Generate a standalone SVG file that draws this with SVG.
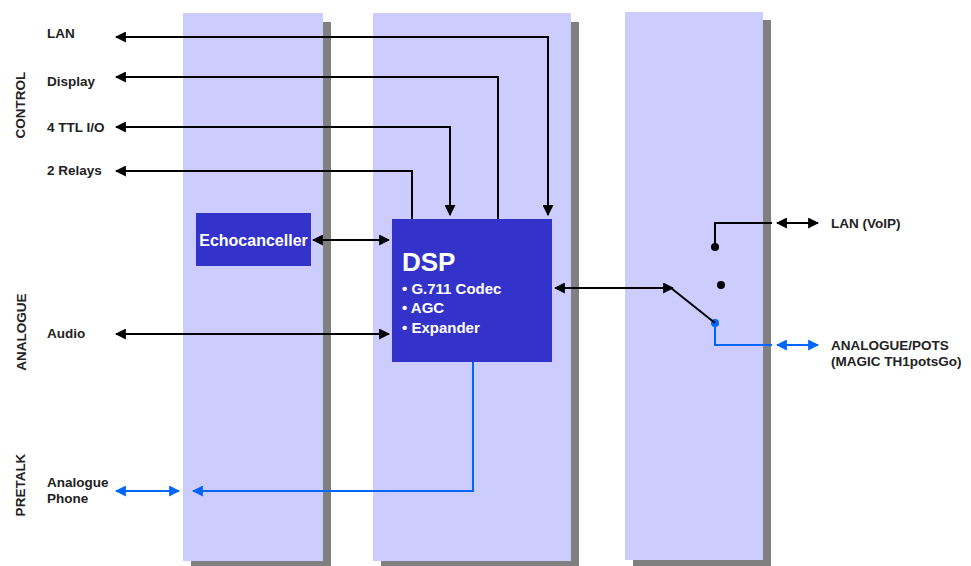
<svg xmlns="http://www.w3.org/2000/svg" width="971" height="566" viewBox="0 0 971 566">
<style>
.panel{fill:#CCCCFF}
.shadow{fill:#808080}
.box{fill:#3333CC}
.lbl{font-family:"Liberation Sans",Arial,sans-serif;font-weight:bold;font-size:13.5px;fill:#222}
.wt{font-family:"Liberation Sans",Arial,sans-serif;font-weight:bold;fill:#fff}
.k{fill:none;stroke:#000;stroke-width:2}
.b{fill:none;stroke:#0066FF;stroke-width:2}
</style>
<defs>
<marker id="ak" viewBox="0 0 10 10" refX="9" refY="5" markerWidth="5.5" markerHeight="5.5" orient="auto-start-reverse" markerUnits="strokeWidth"><path d="M0,0 L10,5 L0,10 z" fill="#000"/></marker>
<marker id="ab" viewBox="0 0 10 10" refX="9" refY="5" markerWidth="5.5" markerHeight="5.5" orient="auto-start-reverse" markerUnits="strokeWidth"><path d="M0,0 L10,5 L0,10 z" fill="#0066FF"/></marker>
</defs>
<rect width="971" height="566" fill="#fff"/>
<g id="panel1"><rect class="shadow" x="191" y="22" width="140" height="544"/><rect class="panel" x="183" y="13" width="140" height="548"/></g>
<g id="panel2"><rect class="shadow" x="381" y="22" width="198" height="544"/><rect class="panel" x="373" y="13" width="198" height="548"/></g>
<g id="panel3"><rect class="shadow" x="633" y="20" width="138" height="546"/><rect class="panel" x="625" y="12" width="138" height="548"/></g>
<g id="side-labels">
<text class="lbl" text-anchor="middle" transform="rotate(-90 25 105)" x="25" y="105">CONTROL</text>
<text class="lbl" text-anchor="middle" transform="rotate(-90 26 332)" x="26" y="332">ANALOGUE</text>
<text class="lbl" text-anchor="middle" transform="rotate(-90 25 485)" x="25" y="485">PRETALK</text>
</g>
<g id="left-labels">
<text class="lbl" x="47" y="38">LAN</text>
<text class="lbl" x="47" y="86">Display</text>
<text class="lbl" x="47" y="132">4 TTL I/O</text>
<text class="lbl" x="47" y="175">2 Relays</text>
<text class="lbl" x="47" y="338">Audio</text>
<text class="lbl" x="47" y="487">Analogue</text>
<text class="lbl" x="47" y="503">Phone</text>
</g>
<g id="right-labels">
<text class="lbl" x="831" y="228">LAN (VoIP)</text>
<text class="lbl" x="831" y="350">ANALOGUE/POTS</text>
<text class="lbl" x="831" y="366">(MAGIC TH1potsGo)</text>
</g>
<g id="echocanceller"><rect class="box" x="196" y="213" width="115" height="53"/><text class="wt" x="253.5" y="246" font-size="16" text-anchor="middle">Echocanceller</text></g>
<g id="dsp"><rect class="box" x="392" y="219" width="160" height="143"/>
<text class="wt" x="402" y="271" font-size="26">DSP</text>
<text class="wt" x="402" y="294" font-size="15">• G.711 Codec</text>
<text class="wt" x="402" y="313" font-size="15">• AGC</text>
<text class="wt" x="402" y="333" font-size="15">• Expander</text>
</g>
<g id="switch">
<circle cx="715" cy="247" r="4" fill="#000"/>
<circle cx="721" cy="285" r="4" fill="#000"/>
<circle cx="715" cy="323" r="4" fill="#0066FF"/>
</g>
<g id="connectors">
<polyline class="k" points="548,215 548,37 116,37" marker-start="url(#ak)" marker-end="url(#ak)"/>
<polyline class="k" points="498,219 498,77 116,77" marker-end="url(#ak)"/>
<polyline class="k" points="450,215 450,127 116,127" marker-start="url(#ak)" marker-end="url(#ak)"/>
<polyline class="k" points="412,219 412,171 116,171" marker-end="url(#ak)"/>
<line class="k" x1="313" y1="240" x2="389" y2="240" marker-start="url(#ak)" marker-end="url(#ak)"/>
<line class="k" x1="116" y1="334" x2="389" y2="334" marker-start="url(#ak)" marker-end="url(#ak)"/>
<line class="k" x1="555" y1="288" x2="673" y2="288" marker-start="url(#ak)" marker-end="url(#ak)"/>
<line class="k" x1="671" y1="288" x2="715" y2="323"/>
<polyline class="k" points="715,247 715,223 772,223"/>
<line class="k" x1="777" y1="223" x2="818" y2="223" marker-start="url(#ak)" marker-end="url(#ak)"/>
<polyline class="b" points="715,323 715,345 772,345"/>
<line class="b" x1="777" y1="345" x2="818" y2="345" marker-start="url(#ab)" marker-end="url(#ab)"/>
<line class="b" x1="116" y1="491" x2="179" y2="491" marker-start="url(#ab)" marker-end="url(#ab)"/>
<polyline class="b" points="473,362 473,491 193,491" marker-end="url(#ab)"/>
</g>
</svg>
